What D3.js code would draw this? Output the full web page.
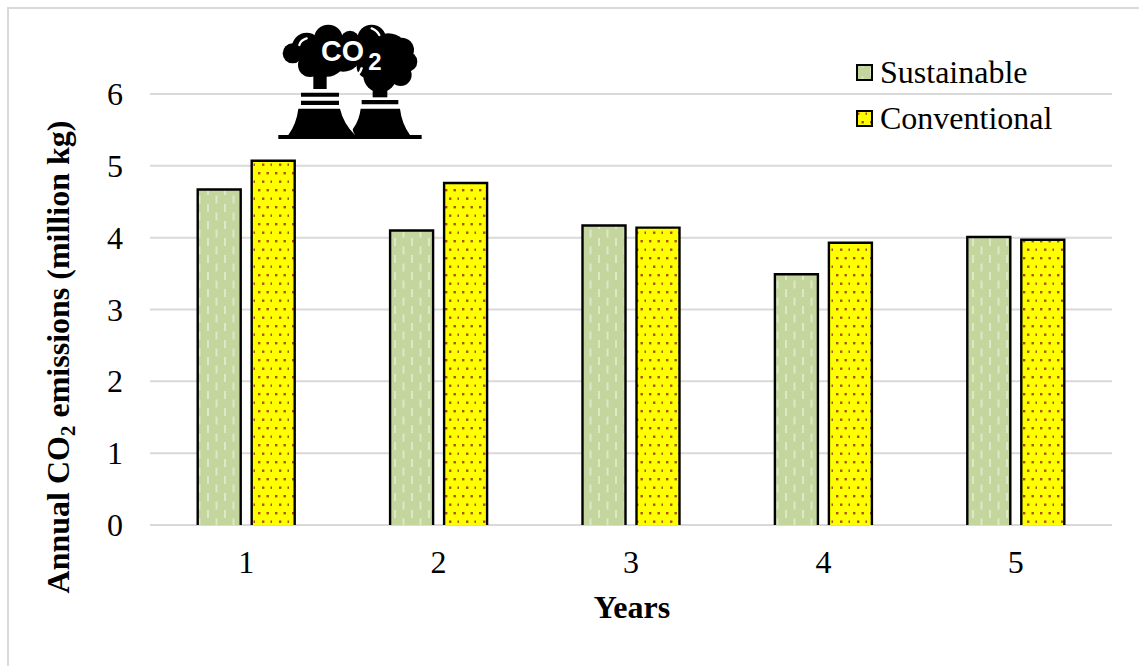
<!DOCTYPE html>
<html><head><meta charset="utf-8">
<script src="https://cdn.jsdelivr.net/npm/d3@7"></script>
<style>
html,body{margin:0;padding:0;background:#fff;overflow:hidden}
svg{display:block}
text{font-family:"Liberation Serif",serif;fill:#000}
</style></head><body>
<svg id="chart" width="1139" height="666"></svg>
<script>
const years = ["1","2","3","4","5"];
const seriesNames = ["Sustainable","Conventional"];
const sustainable = [4.67,4.10,4.17,3.49,4.01];
const conventional = [5.07,4.76,4.14,3.93,3.97];
const yTicks = [0,1,2,3,4,5,6];

const svg = d3.select("#chart");
const defs = svg.append("defs");

// Bar fills: dashed green and dotted yellow
const pg = defs.append("pattern").attr("id","fillGreen").attr("patternUnits","userSpaceOnUse")
  .attr("width",17).attr("height",34);
pg.append("rect").attr("width",17).attr("height",34).attr("fill","#C4D69E");
[[3,0],[3,17],[11.5,8.5],[11.5,25.5]].forEach(([x,y])=>
  pg.append("rect").attr("x",x).attr("y",y).attr("width",2).attr("height",8).attr("fill","#DDE8C8"));

const py = defs.append("pattern").attr("id","fillYellow").attr("patternUnits","userSpaceOnUse")
  .attr("width",17).attr("height",17);
py.append("rect").attr("width",17).attr("height",17).attr("fill","#FFFF00");
[[3,2],[11.5,2],[7,10.5],[15.5,10.5]].forEach(([x,y])=>
  py.append("rect").attr("x",x).attr("y",y).attr("width",2.4).attr("height",2.4).attr("fill","#A8500C"));

// Chart frame: top and left edges fall inside the page
svg.append("path").attr("d","M8,680V8H1150")
  .attr("fill","none").attr("stroke","#D9D9D9").attr("stroke-width",2);

const x = d3.scaleBand().domain(years).range([150,1112]);
const y = d3.scaleLinear().domain([0,6]).range([525,94]);
const barW = 43, barGap = 11;

// Horizontal grid
svg.append("g").selectAll("line").data(yTicks).join("line")
  .attr("x1",150).attr("x2",1112)
  .attr("y1",d=>y(d)).attr("y2",d=>y(d))
  .attr("stroke","#D9D9D9").attr("stroke-width",2);

// Bars
const barSeries = [
  {values:sustainable, fill:"url(#fillGreen)", off:-barGap/2-barW},
  {values:conventional, fill:"url(#fillYellow)", off:barGap/2}
];
barSeries.forEach(s=>{
  svg.append("g").selectAll("path").data(years).join("path")
    .attr("d",(d,i)=>{
      const l = x(d)+x.bandwidth()/2+s.off, r = l+barW, t = y(s.values[i]), b = y(0);
      return `M${l},${b}V${t}H${r}V${b}`;
    })
    .attr("fill",s.fill).attr("stroke","#000").attr("stroke-width",2.4);
});

// Axis tick labels
svg.append("g").selectAll("text").data(yTicks).join("text")
  .attr("x",115).attr("y",d=>y(d)+11).attr("text-anchor","middle")
  .attr("font-size",32).text(d=>d);
svg.append("g").selectAll("text").data(years).join("text")
  .attr("x",d=>x(d)+x.bandwidth()/2).attr("y",573).attr("text-anchor","middle")
  .attr("font-size",32).text(d=>d);

// Axis titles
svg.append("text").attr("x",632).attr("y",618).attr("text-anchor","middle")
  .attr("font-size",32).attr("font-weight","bold").text("Years");
const yt = svg.append("text").attr("transform","translate(69,357) rotate(-90)")
  .attr("text-anchor","middle").attr("font-size",32).attr("font-weight","bold");
yt.append("tspan").text("Annual CO");
yt.append("tspan").attr("font-size",21).attr("dy",6).text("2");
yt.append("tspan").attr("dy",-6).text(" emissions (million kg)");

// Legend
const legendRows = [
  {name:seriesNames[0], fill:"url(#fillGreen)", y:73},
  {name:seriesNames[1], fill:"url(#fillYellow)", y:119}
];
const lg = svg.append("g").selectAll("g").data(legendRows).join("g");
lg.append("rect").attr("x",857).attr("y",d=>d.y-8).attr("width",15).attr("height",15)
  .attr("fill",d=>d.fill).attr("stroke","#000").attr("stroke-width",2);
lg.append("text").attr("x",880).attr("y",d=>d.y+10).attr("font-size",32).text(d=>d.name);

// Power-plant icon with CO2 cloud
const icon = svg.append("g").attr("transform","translate(260,10) scale(0.3333)");
const cloudL = [[98,130,30],[140,112,44],[205,87,43],[150,165,36],[200,140,60],[250,130,55],[270,90,28]];
const cloudR = [[335,87,43],[295,110,25],[425,120,37],[442,155,30],[422,195,33],[360,197,50],[325,170,35],[385,130,60],[345,130,48]];
icon.selectAll("circle.r").data(cloudR).join("circle").attr("class","r")
  .attr("cx",d=>d[0]).attr("cy",d=>d[1]).attr("r",d=>d[2]).attr("fill","#000");
icon.append("path").attr("d","M338,220H382V262H338Z").attr("fill","#000");
icon.selectAll("circle.l").data(cloudL).join("circle").attr("class","l")
  .attr("cx",d=>d[0]).attr("cy",d=>d[1]).attr("r",d=>d[2]).attr("fill","#000");
icon.append("path").attr("d","M160,180H200V237H160Z").attr("fill","#000");
icon.append("path").attr("d","M270,208Q298,200 306,172").attr("fill","none").attr("stroke","#fff").attr("stroke-width",7);
// Cloud highlights
icon.append("path").attr("d","M118,105Q122,90 140,85").attr("fill","none").attr("stroke","#fff").attr("stroke-width",7).attr("stroke-linecap","round");
icon.append("path").attr("d","M335,55Q350,60 358,75").attr("fill","none").attr("stroke","#fff").attr("stroke-width",7).attr("stroke-linecap","round");
// Cooling towers and ground line
icon.append("path").attr("d","M123,248H237V260H123ZM123,272H237V285H123ZM115,296H240Q250,340 285,375H85Q110,340 115,296Z").attr("fill","#000");
icon.append("path").attr("d","M305,270H415V283H305ZM302,296H420Q425,340 450,375H285Q275,360 280,355Q298,330 302,296Z").attr("fill","#000");
icon.append("rect").attr("x",55).attr("y",375).attr("width",430).attr("height",12).attr("fill","#000");
icon.append("text").attr("x",183).attr("y",154).attr("font-size",86).attr("font-weight","bold")
  .style("font-family","'Liberation Sans',sans-serif").style("fill","#fff").text("CO");
icon.append("text").attr("x",325).attr("y",180).attr("font-size",72).attr("font-weight","bold")
  .style("font-family","'Liberation Sans',sans-serif").style("fill","#fff").text("2");
</script>
</body></html>
